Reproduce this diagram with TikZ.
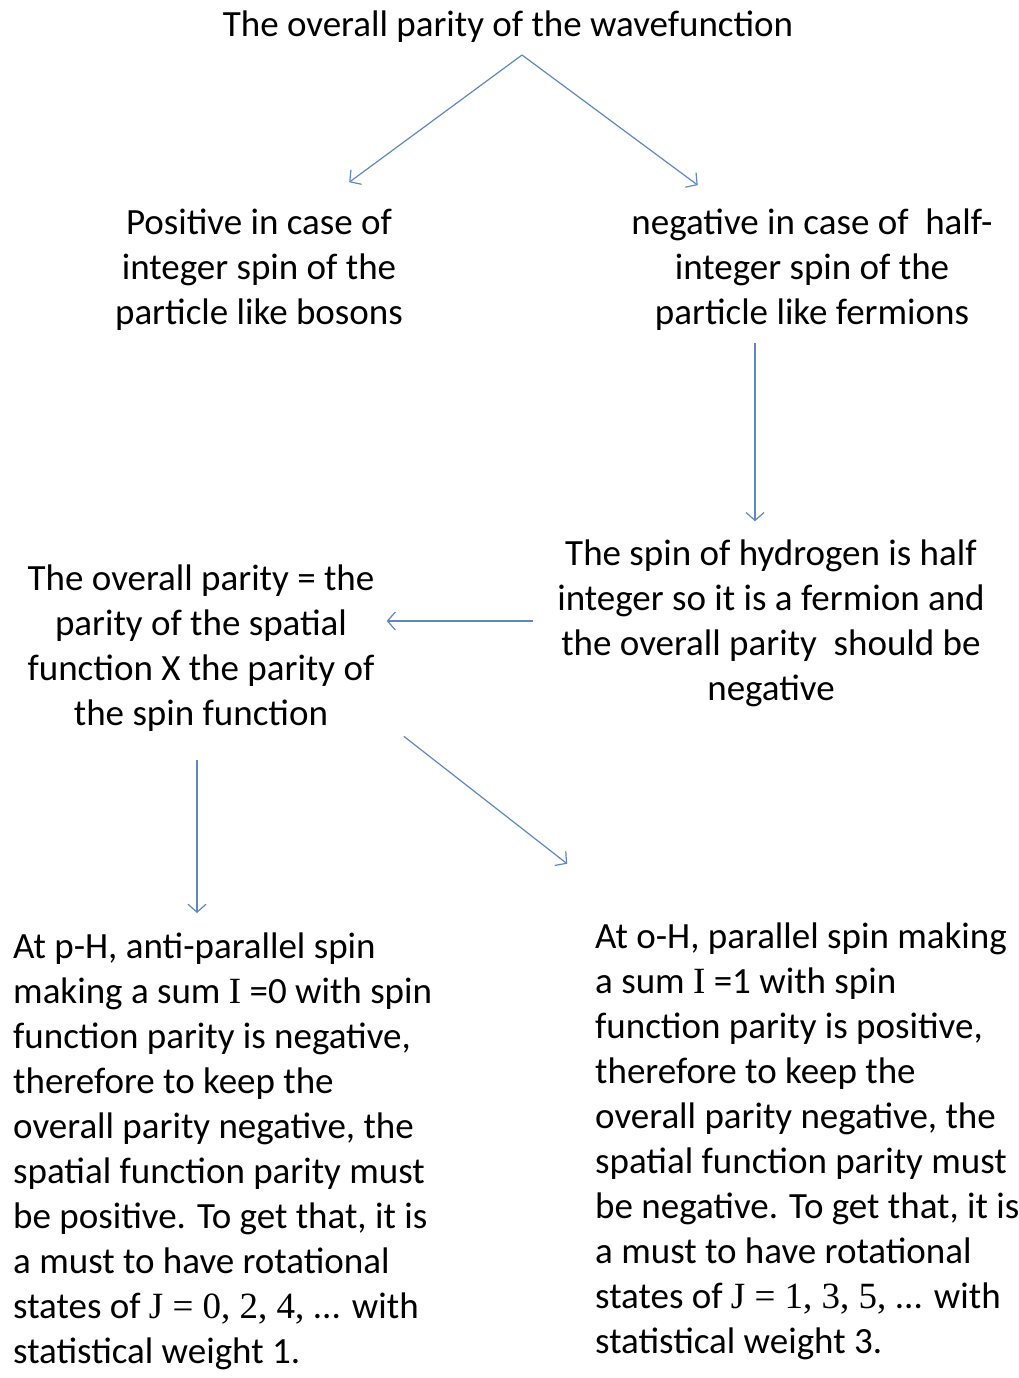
\documentclass[tikz,border=0pt]{standalone}
\usepackage{fontspec}
\setmainfont{Carlito}
\newfontfamily\symser{Liberation Serif}
\usepackage{xcolor}
\usepackage{tikz}
\usetikzlibrary{arrows.meta,calc}
\definecolor{arrowblue}{RGB}{96,136,190}
\tikzstyle{txt} = [inner sep=0pt, font=\fontsize{37}{45}\selectfont]
\tikzstyle{line} = [draw, arrowblue, line width=1.2pt, -{Straight Barb[length=8pt,width=18pt]}]

\begin{document}
\begin{tikzpicture}[x=1pt,y=-1pt]
\useasboundingbox (0,0) rectangle (1019,1378);
\node [txt] (top) at (508,27) {The overall parity of the wavefunction};
\coordinate (apex) at (522,55);
\node [txt, align=center] (pos) at (259,270) {Positive in case of\\integer spin of the\\particle like bosons};
\node [txt, align=center] (neg) at (812,270) {negative in case of\ \ half-\\integer spin of the\\particle like fermions};
\node [txt, align=center] (hyd) at (771,623) {The spin of hydrogen is half\\integer so it is a fermion and\\the overall parity\ \ should be\\negative};
\node [txt, align=center] (overall) at (201,648) {The overall parity = the\\parity of the spatial\\function X the parity of\\the spin function};
\node [txt, align=left, anchor=north west] (pH) at (13,933) {At p-H, anti-parallel spin\\making a sum {\symser I} =0 with spin\\function parity is negative,\\therefore to keep the\\overall parity negative, the\\spatial function parity must\\be positive. To get that, it is\\a must to have rotational\\states of {\symser J = 0, 2, 4,} ... with\\statistical weight 1.};
\node [txt, align=left, anchor=north west] (oH) at (595,923) {At o-H, parallel spin making\\a sum {\symser I} =1 with spin\\function parity is positive,\\therefore to keep the\\overall parity negative, the\\spatial function parity must\\be negative. To get that, it is\\a must to have rotational\\states of {\symser J = 1, 3, 5,} ... with\\statistical weight 3.};
\path [line, shorten >=112pt] (apex) -- ($(pos.center)!0.35!(pos.north)$);
\path [line, shorten >=40pt] (apex) -- (neg);
\path [line, shorten <=12pt, shorten >=18pt] (neg.south -| 755,0) -- (hyd.north -| 755,0);
\path [line, shorten <=24pt, shorten >=12pt] (hyd.west |- 0,621) -- (overall.east |- 0,621);
\path [line, shorten <=28pt, shorten >=20pt] (overall.south -| 197,0) -- (pH.north -| 197,0);
\path [line, shorten <=37pt, shorten >=67pt] ($(overall.south east)+(0,-18)$) -- ($(oH.north west)+(25,-18)$);
\end{tikzpicture}
\end{document}
